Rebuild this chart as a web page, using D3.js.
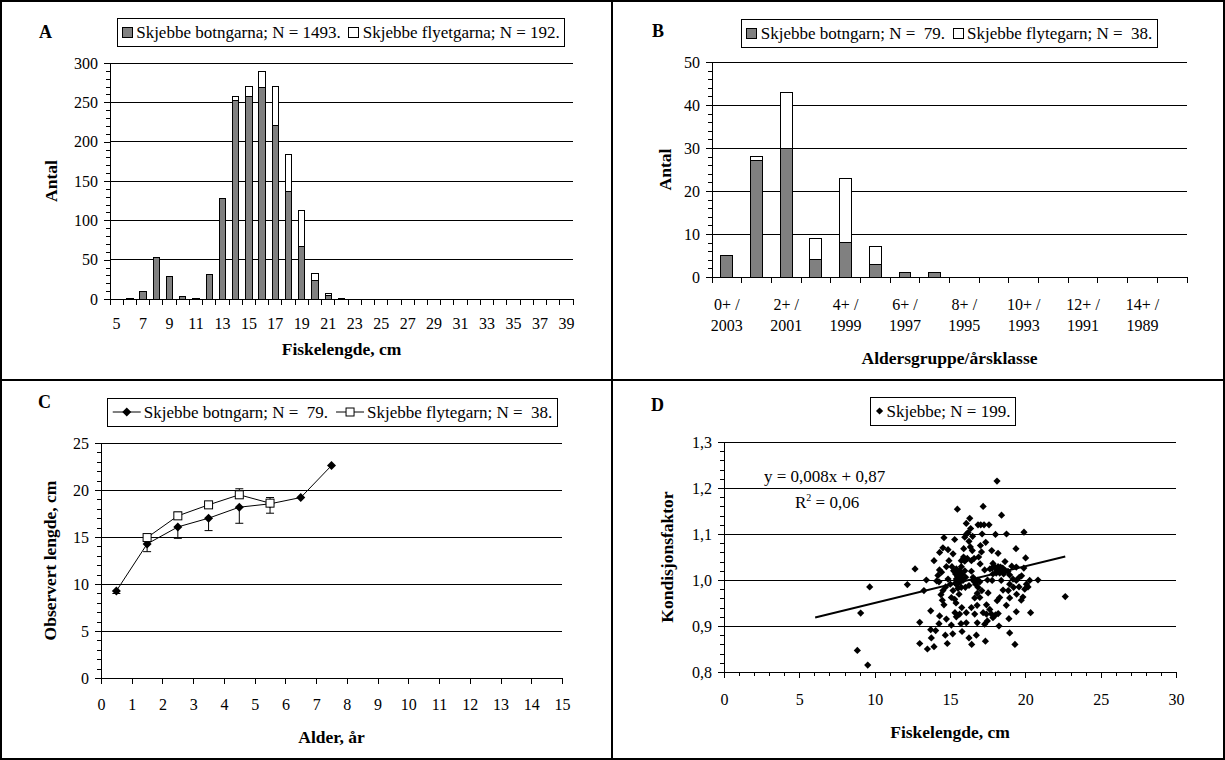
<!DOCTYPE html>
<html>
<head>
<meta charset="utf-8">
<script src="https://cdn.jsdelivr.net/npm/d3@7"></script>
<style>
  body { margin: 0; background: #fff; }
  svg text { font-family: "Liberation Serif", "Times New Roman", serif; fill: #000; white-space: pre; }
</style>
</head>
<body>
<svg width="1225" height="760"></svg>
<script>
// ---- data ----
// A: lengdefordeling (cm)
var lengdeKlasser = [5,6,7,8,9,10,11,12,13,14,15,16,17,18,19,20,21,22,23,24,25,26,27,28,29,30,31,32,33,34,35,36,37,38,39];
var botngarnaA  = [0,1,10,53,29,3,1,31,128,252,258,269,221,137,67,24,4,1,0,0,0,0,0,0,0,0,0,0,0,0,0,0,0,0,0];
var flyetgarnaA = [0,0,0,0,0,0,0,0,0,6,12,20,49,47,45,9,3,0,0,0,0,0,0,0,0,0,0,0,0,0,0,0,0,0,0];

// B: aldersgruppe / årsklasse
var alderGrupper = ["0+","1+","2+","3+","4+","5+","6+","7+","8+","9+","10+","11+","12+","13+","14+","15+"];
var aarsKlasser  = [2003,2002,2001,2000,1999,1998,1997,1996,1995,1994,1993,1992,1991,1990,1989,1988];
var botngarnB  = [5,27,30,4,8,3,1,1,0,0,0,0,0,0,0,0];
var flytegarnB = [0,1,13,5,15,4,0,0,0,0,0,0,0,0,0,0];

// C: observert lengde ved alder
var alderBotn   = [0.5,1.5,2.5,3.5,4.5,5.5,6.5,7.5];
var lengdeBotn  = [9.26,14.26,16.07,17.0,18.17,18.53,19.2,22.6];
var sdBotn      = [0.27,0.82,1.21,1.32,1.71,1.0,0,0];
var alderFlyte  = [1.5,2.5,3.5,4.5,5.5];
var lengdeFlyte = [14.94,17.25,18.42,19.49,18.6];
var sdFlyte     = [0.2,0.39,0.25,0.64,0.6];

// D: kondisjonsfaktor mot lengde [cm, K]
var kondisjon = [
  [18.12,1.215],[8.85,0.847],[9.54,0.815],[9.07,0.928],[9.67,0.985],[22.65,0.964],[12.17,0.99],[12.68,1.024],
  [12.99,0.908],[12.99,0.862],[13.5,0.85],[13.94,0.855],[13.76,0.874],[13.72,0.892],[13.72,0.933],[13.27,0.977],
  [13.43,1.0],[14.05,0.89],[14.31,0.922],[14.27,0.905],[14.12,0.998],[13.94,1.042],[14.3,1.022],[14.44,1.017],
  [14.31,1.06],[14.6,1.092],[14.53,1.07],[14.4,0.968],[14.49,0.956],[14.6,0.946],[14.53,0.977],[14.69,0.88],
  [14.82,0.862],[15.18,0.883],[14.87,1.066],[15.2,1.057],[15.31,1.088],[15.49,1.154],[15.13,1.029],[15.24,1.02],
  [15.37,1.013],[15.42,1.002],[15.64,0.995],[15.35,0.993],[15.2,0.977],[15.09,0.962],[15.31,0.958],[15.42,0.92],
  [15.33,0.929],[15.78,0.94],[15.6,0.969],[15.8,0.888],[15.73,0.905],[16.08,0.907],[16.26,0.874],[16.44,0.86],
  [16.75,0.88],[15.91,1.068],[15.98,1.093],[16.1,1.1],[16.2,1.103],[16.31,1.134],[16.26,1.084],[16.35,1.072],
  [16.48,1.064],[15.98,1.041],[16.15,1.047],[16.42,1.042],[16.6,1.047],[16.42,1.019],[16.53,1.006],[16.7,0.991],
  [16.86,0.984],[16.81,0.971],[16.64,0.961],[16.98,0.962],[16.8,0.945],[17.42,0.946],[17.2,0.929],[17.64,0.936],
  [17.75,0.926],[18.02,0.924],[18.2,0.927],[17.35,0.867],[17.09,1.061],[17.02,1.075],[17.13,1.1],[17.37,1.082],
  [16.86,1.12],[17.04,1.12],[17.26,1.12],[17.59,1.12],[17.2,1.16],[18.02,1.099],[18.42,1.141],[18.75,1.1],
  [19.91,1.104],[17.77,1.064],[18.19,1.058],[17.85,1.036],[17.65,1.024],[17.3,1.022],[17.79,1.026],[17.96,1.029],
  [18.19,1.029],[18.35,1.028],[18.5,1.026],[18.65,1.04],[17.85,1.013],[18.07,1.015],[18.3,1.015],[18.56,1.013],
  [18.85,1.019],[18.96,1.011],[19.4,1.028],[19.38,1.068],[20.02,1.048],[19.9,1.026],[19.6,1.006],[19.75,1.009],
  [19.18,1.002],[19.4,0.999],[17.8,0.999],[17.49,1.0],[18.4,0.999],[18.96,0.991],[19.22,0.984],[19.58,0.985],
  [20.07,0.991],[19.96,0.98],[20.84,1.0],[20.29,0.999],[20.18,0.985],[18.87,0.977],[19.42,0.969],[19.84,0.963],
  [19.73,0.956],[18.96,0.961],[18.74,0.945],[18.3,0.962],[18.52,0.978],[18.13,0.955],[19.4,0.931],[20.35,0.929],
  [18.91,0.916],[18.96,0.885],[19.31,0.86],[17.11,0.977],[17.53,0.972],[16.26,0.988],[16.02,0.984],[16.98,0.996],
  [16.6,0.997],[15.64,1.02],[15.8,1.012],[15.86,0.999],[16.04,1.006],[15.75,0.984],[15.53,0.982],[15.02,0.991],
  [14.87,1.002],[14.71,0.985],[14.27,0.996],[14.76,1.029],[14.93,1.042],[15.42,1.024],[15.75,1.029],[15.98,1.02],
  [15.75,1.042],[16.37,1.112],[16.08,1.123],[16.42,0.94],[16.08,0.929],[16.64,0.926],[16.81,0.907],[17.3,0.904],
  [17.48,0.911],[18.25,0.9],[17.85,0.918],[17.42,0.926],[15.09,0.902],[14.76,0.915],[15.64,0.926],[15.5,1.008],
  [15.58,1.0],[15.45,0.99],[15.7,1.005],[15.55,1.015],[16.9,1.05],[17.0,1.035],[18.1,1.02],[18.25,1.02],
  [18.7,1.02],[15.9,1.05],[16.5,1.095],[14.2,1.01],[19.1,1.03],[16.85,1.0],[15.4,0.95]
];
// trendlinje y = 0,008x + 0,87
var trendStigning = 0.008, trendKonstant = 0.87;
var trendFra = 6.05, trendTil = 22.65;

// ---- oppsett ----
var svg = d3.select("svg");
var font = '"Liberation Serif", "Times New Roman", serif';
var graa = "#808080";
var komma = function(v) { return d3.format(".1f")(v).replace(".", ","); };
var legendeSize = 17, tittelSize = 17.5;

var pA = {x0: 110, x1: 573, y0: 299, y1: 63};
var pB = {x0: 712, x1: 1187, y0: 277, y1: 62};
var pC = {x0: 101, x1: 562, y0: 678, y1: 443};
var pD = {x0: 724, x1: 1176, y0: 672, y1: 442};

// ramme rundt panelene
svg.append("rect").attr("x", 1).attr("y", 1).attr("width", 1223).attr("height", 758)
  .attr("fill", "none").attr("stroke", "#000").attr("stroke-width", 2);
svg.append("line").attr("x1", 612).attr("x2", 612).attr("y1", 0).attr("y2", 760)
  .attr("stroke", "#000").attr("stroke-width", 2);
svg.append("line").attr("x1", 0).attr("x2", 1225).attr("y1", 380).attr("y2", 380)
  .attr("stroke", "#000").attr("stroke-width", 2);

function yAkse(p, y, major, minor, fmt) {
  var g = svg.append("g").attr("shape-rendering", "crispEdges");
  g.selectAll("line.grid").data(major.slice(1)).join("line").attr("class", "grid")
    .attr("x1", p.x0).attr("x2", p.x1)
    .attr("y1", function(d) { return y(d); }).attr("y2", function(d) { return y(d); })
    .attr("stroke", "#000").attr("stroke-width", 1);
  g.append("g").attr("transform", "translate(" + p.x0 + ",0)")
    .call(d3.axisLeft(y).tickValues(minor).tickSize(4).tickFormat(""))
    .call(function(a) { a.select(".domain").remove(); });
  g.append("g").attr("transform", "translate(" + p.x0 + ",0)")
    .call(d3.axisLeft(y).tickValues(major).tickSize(6).tickSizeOuter(0).tickPadding(6).tickFormat(fmt))
    .attr("font-family", font).attr("font-size", 16);
}

function kategoriAkse(p, x, n) {
  var g = svg.append("g").attr("shape-rendering", "crispEdges");
  g.append("line").attr("x1", p.x0).attr("x2", p.x1).attr("y1", p.y0).attr("y2", p.y0).attr("stroke", "#000");
  g.selectAll("line.t").data(d3.range(n + 1)).join("line").attr("class", "t")
    .attr("x1", function(i) { return x.range()[0] + i * x.step(); })
    .attr("x2", function(i) { return x.range()[0] + i * x.step(); })
    .attr("y1", p.y0).attr("y2", p.y0 + 6).attr("stroke", "#000");
}

function tittel(txt, x, y) {
  svg.append("text").attr("x", x).attr("y", y).attr("font-weight", "bold")
    .attr("font-size", tittelSize).attr("text-anchor", "middle").text(txt);
}
function yTittel(txt, x, y) {
  svg.append("text").attr("transform", "translate(" + x + "," + y + ") rotate(-90)")
    .attr("font-weight", "bold").attr("font-size", tittelSize).attr("text-anchor", "middle").text(txt);
}
function panelBokstav(txt, x, y) {
  svg.append("text").attr("x", x).attr("y", y).attr("font-weight", "bold").attr("font-size", 18).text(txt);
}

// legende: elementer etter hverandre, sentrert i boksen
function legende(cx, y, items) {
  var g = svg.append("g");
  var box = g.append("rect").attr("y", y).attr("height", 28).attr("fill", "#fff")
    .attr("stroke", "#000").attr("shape-rendering", "crispEdges");
  var inner = g.append("g");
  var x = 5, my = y + 14;
  items.forEach(function(it, i) {
    if (it.type === "rute") {
      inner.append("rect").attr("x", x).attr("y", my - 5).attr("width", 10).attr("height", 10)
        .attr("fill", it.fill).attr("stroke", "#000").attr("shape-rendering", "crispEdges");
      x += 14;
    } else if (it.type === "linje") {
      inner.append("line").attr("x1", x).attr("x2", x + 28).attr("y1", my).attr("y2", my).attr("stroke", "#000");
      it.marker(inner, x + 14, my);
      x += 31;
    } else if (it.type === "punkt") {
      it.marker(inner, x + 4, my);
      x += 11;
    }
    var t = inner.append("text").attr("x", x).attr("y", my + 6).attr("font-size", legendeSize).text(it.label);
    x += t.node().getComputedTextLength() + 8;
  });
  var w = x - 8 + 5;
  inner.attr("transform", "translate(" + (cx - w / 2) + ",0)");
  box.attr("x", cx - w / 2).attr("width", w);
}

function diamant(g, x, y, r, fill) {
  g.append("path").attr("d", "M" + x + "," + (y - r) + "L" + (x + r) + "," + y + "L" + x + "," + (y + r) + "L" + (x - r) + "," + y + "Z")
    .attr("fill", fill || "#000").attr("stroke", "none");
}
function kvadrat(g, x, y, s) {
  g.append("rect").attr("x", x - s / 2).attr("y", y - s / 2).attr("width", s).attr("height", s)
    .attr("fill", "#fff").attr("stroke", "#000");
}

// ================= A =================
var xA = d3.scaleBand().domain(lengdeKlasser).range([pA.x0, pA.x1]).padding(0);
var yA = d3.scaleLinear().domain([0, 300]).range([pA.y0, pA.y1]);
yAkse(pA, yA, [0, 50, 100, 150, 200, 250, 300], d3.range(0, 301, 10), d3.format("d"));

var tabellA = lengdeKlasser.map(function(k, i) { return {k: k, botn: botngarnaA[i], flyte: flyetgarnaA[i]}; });
var stakkA = d3.stack().keys(["botn", "flyte"])(tabellA);
var bwA = xA.bandwidth() * 0.48;
svg.append("g").attr("shape-rendering", "crispEdges").selectAll("g").data(stakkA).join("g")
  .attr("fill", function(s) { return s.key === "botn" ? graa : "#fff"; })
  .selectAll("rect").data(function(s) { return s.filter(function(d) { return d[1] > d[0]; }); }).join("rect")
  .attr("x", function(d) { return xA(d.data.k) + (xA.bandwidth() - bwA) / 2; })
  .attr("width", bwA)
  .attr("y", function(d) { return yA(d[1]); })
  .attr("height", function(d) { return yA(d[0]) - yA(d[1]); })
  .attr("stroke", "#000");
kategoriAkse(pA, xA, lengdeKlasser.length);
svg.append("g").selectAll("text").data(lengdeKlasser.filter(function(d, i) { return i % 2 === 0; })).join("text")
  .attr("x", function(d) { return xA(d) + xA.bandwidth() / 2; }).attr("y", pA.y0 + 29.5)
  .attr("text-anchor", "middle").attr("font-size", 16).text(function(d) { return d; });
tittel("Fiskelengde, cm", (pA.x0 + pA.x1) / 2, 355);
yTittel("Antal", 57, (pA.y0 + pA.y1) / 2);
panelBokstav("A", 39, 38);
legende(341, 18, [
  {type: "rute", fill: graa, label: "Skjebbe botngarna; N = 1493."},
  {type: "rute", fill: "#fff", label: "Skjebbe flyetgarna; N = 192."}
]);

// ================= B =================
var xB = d3.scaleBand().domain(alderGrupper).range([pB.x0, pB.x1]).padding(0);
var yB = d3.scaleLinear().domain([0, 50]).range([pB.y0, pB.y1]);
yAkse(pB, yB, [0, 10, 20, 30, 40, 50], d3.range(0, 51, 2), d3.format("d"));

var tabellB = alderGrupper.map(function(k, i) { return {k: k, botn: botngarnB[i], flyte: flytegarnB[i]}; });
var stakkB = d3.stack().keys(["botn", "flyte"])(tabellB);
var bwB = xB.bandwidth() * 0.4;
svg.append("g").attr("shape-rendering", "crispEdges").selectAll("g").data(stakkB).join("g")
  .attr("fill", function(s) { return s.key === "botn" ? graa : "#fff"; })
  .selectAll("rect").data(function(s) { return s.filter(function(d) { return d[1] > d[0]; }); }).join("rect")
  .attr("x", function(d) { return xB(d.data.k) + (xB.bandwidth() - bwB) / 2; })
  .attr("width", bwB)
  .attr("y", function(d) { return yB(d[1]); })
  .attr("height", function(d) { return yB(d[0]) - yB(d[1]); })
  .attr("stroke", "#000");
kategoriAkse(pB, xB, alderGrupper.length);
var labB = svg.append("g").selectAll("text").data(alderGrupper.filter(function(d, i) { return i % 2 === 0; })).join("text")
  .attr("text-anchor", "middle").attr("font-size", 16);
labB.append("tspan").attr("x", function(d) { return xB(d) + xB.bandwidth() / 2; }).attr("y", pB.y0 + 33)
  .text(function(d) { return d + " /"; });
labB.append("tspan").attr("x", function(d) { return xB(d) + xB.bandwidth() / 2; }).attr("y", pB.y0 + 54)
  .text(function(d) { return aarsKlasser[alderGrupper.indexOf(d)]; });
tittel("Aldersgruppe/årsklasse", (pB.x0 + pB.x1) / 2, 364);
yTittel("Antal", 671, (pB.y0 + pB.y1) / 2);
panelBokstav("B", 652, 37);
legende(949.5, 19, [
  {type: "rute", fill: graa, label: "Skjebbe botngarn; N =  79."},
  {type: "rute", fill: "#fff", label: "Skjebbe flytegarn; N =  38."}
]);

// ================= C =================
var xC = d3.scaleLinear().domain([0, 15]).range([pC.x0, pC.x1]);
var yC = d3.scaleLinear().domain([0, 25]).range([pC.y0, pC.y1]);
yAkse(pC, yC, [0, 5, 10, 15, 20, 25], d3.range(0, 26, 1), d3.format("d"));
svg.append("g").attr("transform", "translate(0," + pC.y0 + ")").attr("shape-rendering", "crispEdges")
  .call(d3.axisBottom(xC).ticks(15).tickSize(6).tickSizeOuter(0).tickPadding(15).tickFormat(d3.format("d")))
  .attr("font-family", font).attr("font-size", 16);

var linje = d3.line().x(function(d) { return xC(d[0]); }).y(function(d) { return yC(d[1]); });
var gC = svg.append("g");
var botnPkt = alderBotn.map(function(a, i) { return [a, lengdeBotn[i], sdBotn[i]]; });
var flytePkt = alderFlyte.map(function(a, i) { return [a, lengdeFlyte[i], sdFlyte[i]]; });
// feilstolper: botngarn nedover, flytegarn oppover
function feil(pkt, retning) {
  pkt.filter(function(d) { return d[2] > 0; }).forEach(function(d) {
    var yEnd = yC(d[1] + retning * d[2]);
    gC.append("line").attr("x1", xC(d[0])).attr("x2", xC(d[0])).attr("y1", yC(d[1])).attr("y2", yEnd).attr("stroke", "#000");
    gC.append("line").attr("x1", xC(d[0]) - 4).attr("x2", xC(d[0]) + 4).attr("y1", yEnd).attr("y2", yEnd).attr("stroke", "#000");
  });
}
feil(botnPkt, -1);
feil(flytePkt, 1);
gC.append("path").attr("d", linje(flytePkt)).attr("fill", "none").attr("stroke", "#000");
gC.append("path").attr("d", linje(botnPkt)).attr("fill", "none").attr("stroke", "#000");
botnPkt.forEach(function(d) { diamant(gC, xC(d[0]), yC(d[1]), 4.5); });
flytePkt.forEach(function(d) { kvadrat(gC, xC(d[0]), yC(d[1]), 8); });
tittel("Alder, år", (pC.x0 + pC.x1) / 2, 743);
yTittel("Observert lengde, cm", 56, (pC.y0 + pC.y1) / 2);
panelBokstav("C", 38, 408);
legende(332.5, 398, [
  {type: "linje", marker: function(g, x, y) { diamant(g, x, y, 4.5); }, label: "Skjebbe botngarn; N =  79."},
  {type: "linje", marker: function(g, x, y) { kvadrat(g, x, y, 8); }, label: "Skjebbe flytegarn; N =  38."}
]);

// ================= D =================
var xD = d3.scaleLinear().domain([0, 30]).range([pD.x0, pD.x1]);
var yD = d3.scaleLinear().domain([0.8, 1.3]).range([pD.y0, pD.y1]);
yAkse(pD, yD, [0.8, 0.9, 1.0, 1.1, 1.2, 1.3], d3.range(0, 26).map(function(i) { return 0.8 + i * 0.02; }), komma);
var gxD = svg.append("g").attr("transform", "translate(0," + pD.y0 + ")").attr("shape-rendering", "crispEdges");
gxD.append("g").call(d3.axisBottom(xD).tickValues(d3.range(0, 31)).tickSize(4).tickFormat(""))
  .call(function(a) { a.select(".domain").remove(); });
gxD.append("g").call(d3.axisBottom(xD).tickValues([0, 5, 10, 15, 20, 25, 30]).tickSize(6).tickSizeOuter(0).tickPadding(16).tickFormat(d3.format("d")))
  .attr("font-family", font).attr("font-size", 16);

var gD = svg.append("g");
kondisjon.forEach(function(d) { diamant(gD, xD(d[0]), yD(d[1]), 3.6); });
gD.append("line")
  .attr("x1", xD(trendFra)).attr("y1", yD(trendStigning * trendFra + trendKonstant))
  .attr("x2", xD(trendTil)).attr("y2", yD(trendStigning * trendTil + trendKonstant))
  .attr("stroke", "#000").attr("stroke-width", 2);
svg.append("text").attr("x", 764).attr("y", 482).attr("font-size", 17).text("y = 0,008x + 0,87");
var r2 = svg.append("text").attr("x", 795).attr("y", 508).attr("font-size", 17);
r2.append("tspan").text("R");
r2.append("tspan").attr("font-size", 10).attr("dy", -7).text("2");
r2.append("tspan").attr("dy", 7).text(" = 0,06");
tittel("Fiskelengde, cm", (pD.x0 + pD.x1) / 2, 738);
yTittel("Kondisjonsfaktor", 673, (pD.y0 + pD.y1) / 2);
panelBokstav("D", 651, 411);
legende(943, 397, [
  {type: "punkt", marker: function(g, x, y) { diamant(g, x, y, 3.6); }, label: "Skjebbe; N = 199."}
]);
</script>
</body>
</html>
